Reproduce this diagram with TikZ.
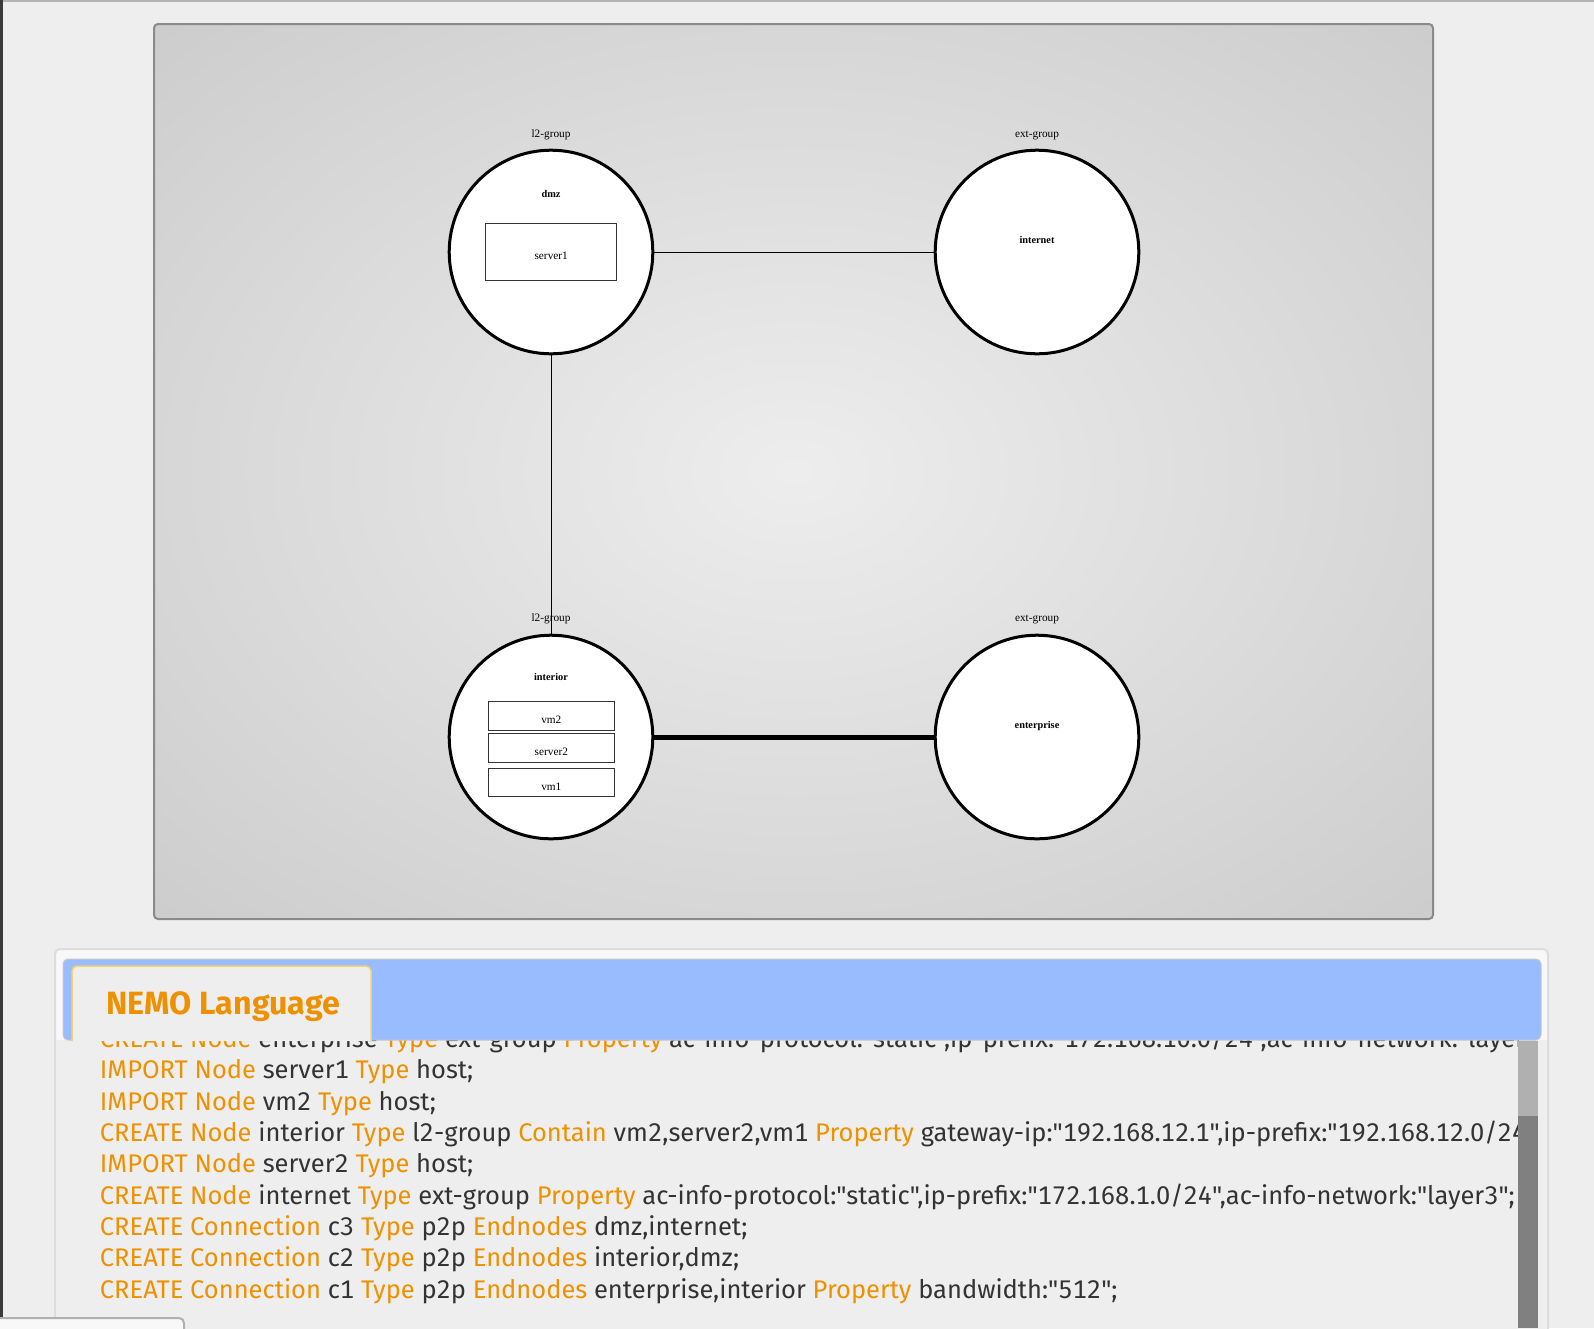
\documentclass[tikz,border=0pt]{standalone}
\usepackage{fontspec}
\setmainfont{Liberation Serif}
\newfontfamily\nemofont[Numbers=Monospaced]{Fira Sans}
\usetikzlibrary{positioning}

\definecolor{pagebg}{HTML}{EEEEEE}
\definecolor{topline}{HTML}{B4B4B4}
\definecolor{leftbar}{HTML}{3A3A3A}
\definecolor{panelrim}{HTML}{8A8A8A}
\definecolor{kwcol}{HTML}{EE9100}
\definecolor{txtcol}{HTML}{333333}
\definecolor{headblue}{HTML}{99BBFF}
\definecolor{headrim}{HTML}{C8C8C8}
\definecolor{tabrim}{HTML}{F3D36E}
\definecolor{boxrim}{HTML}{DDDDDD}
\definecolor{boxfill}{HTML}{F8F8F8}
\definecolor{scrolllight}{HTML}{B0B0B0}
\definecolor{scrolldark}{HTML}{808080}
\definecolor{hostrim}{HTML}{333333}

\pgfdeclareradialshading{panelglow}{\pgfpoint{0bp}{0bp}}{rgb(0bp)=(0.93,0.93,0.93); rgb(25bp)=(0.84,0.84,0.84); rgb(36bp)=(0.80,0.80,0.80); rgb(50bp)=(0.80,0.80,0.80)}

\newcommand{\kw}[1]{\textcolor{kwcol}{#1}}

\tikzset{
    grpnode/.style={circle, draw=black, fill=white, line width=1.5pt, minimum size=101.8pt, inner sep=0pt},
    hostbox/.style={draw=hostrim, fill=white, line width=0.5pt, minimum width=63pt, minimum height=14.4pt, inner sep=0pt, text height=7.6pt, text depth=0pt, font=\fontsize{5.65}{6}\selectfont},
    typelbl/.style={inner sep=0pt, text height=3.86pt, text depth=1.23pt, font=\fontsize{5.65}{6}\selectfont},
    namelbl/.style={inner sep=0pt, text height=3.5pt, text depth=0pt, font=\bfseries\fontsize{5.15}{6}\selectfont},
    link/.style={draw=black, line width=0.5pt},
    codeline/.style={anchor=base west, inner sep=0pt, text=txtcol, font=\nemofont\fontsize{12.75}{15}\selectfont}
}

\begin{document}
\begin{tikzpicture}[x=0.5pt, y=-0.5pt]
    \useasboundingbox (0,0) rectangle (1594,1328);
    \clip (0,0) rectangle (1594,1328);
    \fill[pagebg] (0,0) rectangle (1594,1328);
    \draw[topline, line width=1pt] (0,1) -- (1594,1);
    \fill[leftbar] (0,0) rectangle (2.5,1328);
    % diagram panel
    \shade[shading=panelglow, rounded corners=2pt] (154,24) rectangle (1433,919);
    \draw[panelrim, line width=1pt, rounded corners=2pt] (154,24) rectangle (1433,919);
    % groups
    \node[grpnode] (dmz) at (551,252) {};
    \node[grpnode] (internet) at (1037,252) {};
    \node[grpnode] (interior) at (551,737) {};
    \node[grpnode] (enterprise) at (1037,737) {};
    \draw[link] (dmz) -- (internet);
    \draw[link] (dmz) -- (interior);
    \draw[link, line width=2.5pt] (interior) -- (enterprise);
    \node[typelbl] (dmzType) at (551,135) {l2-group};
    \node[typelbl] (internetType) at (1037,135) {ext-group};
    \node[typelbl] (interiorType) at (551,619) {l2-group};
    \node[typelbl] (enterpriseType) at (1037,619) {ext-group};
    \node[namelbl] (dmzName) at (551,194) {dmz};
    \node[namelbl] (internetName) at (1037,240) {internet};
    \node[namelbl] (interiorName) at (551,677) {interior};
    \node[namelbl] (enterpriseName) at (1037,725) {enterprise};
    % hosts
    \node[hostbox, minimum width=65.5pt, minimum height=28.7pt] (server1) at (551.2,252) {server1};
    \node[hostbox] (vm2) at (551.3,716) {vm2};
    \node[hostbox] (server2) at (551.3,747.8) {server2};
    \node[hostbox] (vm1) at (551.3,782.5) {vm1};
    % language panel
    \draw[boxrim, fill=boxfill, line width=1pt, rounded corners=2.5pt] (55,949) rectangle (1548,1360);
    \fill[pagebg] (56,1040) rectangle (1547,1360);
    \begin{scope}
        \clip (56,1040) rectangle (1518,1328);
        \node[codeline] (line0) at (99.5,1047) {\kw{CREATE Node} enterprise \kw{Type} ext-group \kw{Property} ac-info-protocol:"static",ip-prefix:"172.168.10.0/24",ac-info-network:"layer3";};
        \node[codeline] (line1) at (99.5,1078.5) {\kw{IMPORT Node} server1 \kw{Type} host;};
        \node[codeline] (line2) at (99.5,1110) {\kw{IMPORT Node} vm2 \kw{Type} host;};
        \node[codeline] (line3) at (99.5,1141) {\kw{CREATE Node} interior \kw{Type} l2-group \kw{Contain} vm2,server2,vm1 \kw{Property} gateway-ip:"192.168.12.1",ip-prefix:"192.168.12.0/24";};
        \node[codeline] (line4) at (99.5,1172.5) {\kw{IMPORT Node} server2 \kw{Type} host;};
        \node[codeline] (line5) at (99.5,1204) {\kw{CREATE Node} internet \kw{Type} ext-group \kw{Property} ac-info-protocol:"static",ip-prefix:"172.168.1.0/24",ac-info-network:"layer3";};
        \node[codeline] (line6) at (99.5,1235.5) {\kw{CREATE Connection} c3 \kw{Type} p2p \kw{Endnodes} dmz,internet;};
        \node[codeline] (line7) at (99.5,1266.7) {\kw{CREATE Connection} c2 \kw{Type} p2p \kw{Endnodes} interior,dmz;};
        \node[codeline] (line8) at (99.5,1298) {\kw{CREATE Connection} c1 \kw{Type} p2p \kw{Endnodes} enterprise,interior \kw{Property} bandwidth:"512";};
    \end{scope}
    \draw[headrim, fill=headblue, line width=0.5pt, rounded corners=2.5pt] (63,959) rectangle (1541,1040);
    \filldraw[tabrim, fill=pagebg, line width=0.75pt, rounded corners=2.5pt] (72,1041) -- (72,966) -- (371,966) -- (371,1041);
    \node[anchor=base west, inner sep=0pt, text=kwcol, font=\nemofont\bfseries\fontsize{16.1}{20}\selectfont] (nemoTitle) at (106,1014.3) {NEMO Language};
    % scroll bar
    \fill[scrolllight] (1518,1041) rectangle (1538,1116);
    \fill[scrolldark] (1518,1116) rectangle (1538,1328);
    \filldraw[draw=scrolllight, fill=boxfill, line width=1pt, rounded corners=2.5pt] (-5,1340) -- (-5,1318) -- (184,1318) -- (184,1340);
\end{tikzpicture}
\end{document}
